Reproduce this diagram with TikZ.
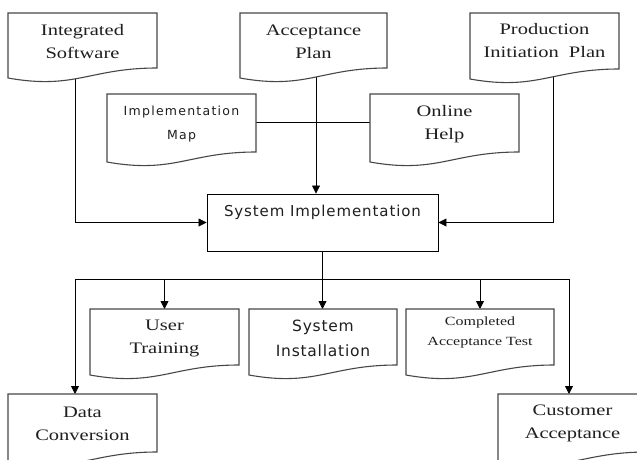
\documentclass[tikz,border=0pt]{standalone}
\usepackage{fontspec}
\usetikzlibrary{arrows.meta,calc}
\newfontfamily\docserif[FakeStretch=1.28]{Liberation Serif}
\newfontfamily\docsans{DejaVu Sans}

\pgfdeclarelayer{paper}
\pgfdeclarelayer{wires}
\pgfsetlayers{paper,wires,main}

\tikzset{
  docframe/.style={draw=black!72, line width=1.1pt, fill=white},
  docarea/.style={inner sep=0pt, outer sep=0pt},
  serifbig/.style={align=center, inner sep=0pt, text=black!88,
    font=\docserif\fontsize{16}{23}\selectfont},
  serifsmall/.style={align=center, inner sep=0pt, text=black!88,
    font=\docserif\fontsize{12.5}{20}\selectfont},
  sansmid/.style={align=center, inner sep=0pt, text=black!88,
    font=\docsans\addfontfeature{LetterSpace=5}\fontsize{15.5}{25}\selectfont},
  sanssmall/.style={align=center, inner sep=0pt, text=black!88,
    font=\docsans\addfontfeature{LetterSpace=10}\fontsize{12.5}{24}\selectfont},
  procbox/.style={draw=black, line width=0.9pt, fill=white},
  wire/.style={draw=black, line width=0.8pt},
  arr/.style={wire, -{Triangle[width=8pt,length=8pt]}},
}

% document symbol: #1 name, #2 left, #3 right, #4 top, #5 lower-left bottom,
% #6 text style, #7 text, #8 vertical text offset from top
\newcommand\docpage[8]{%
  \path[docframe] (#2,#4) -- (#3,#4) -- (#3,#5-10)
    .. controls ({#2+0.55*(#3-#2)},#5-10) and ({#2+0.45*(#3-#2)},#5+12) ..
    (#2,#5) -- cycle;
  \node[docarea, minimum width={(#3-#2)*1pt}, minimum height={(#5-#4)*1pt}]
    (#1) at ({(#2+#3)/2},{(#4+#5)/2}) {};
  \node[#6] (#1-t) at ({(#2+#3)/2},#4+#8) {#7};
}

\begin{document}
\begin{tikzpicture}[x=1pt, y=-1pt]
\useasboundingbox (0,0) rectangle (637,459);
\begin{pgfonlayer}{paper}
  \fill[white] (0,0) rectangle (637,459);
\end{pgfonlayer}
\clip (0,0) rectangle (637,459);

% inputs
\docpage{intsw}{8}{157}{13}{78}{serifbig}{Integrated\\Software}{29}
\docpage{accplan}{240}{387}{13}{78}{serifbig}{Acceptance\\Plan}{29}
\docpage{prodplan}{470}{619}{13}{79}{serifbig}{Production\\Initiation\ \ Plan}{28}
\docpage{implmap}{107}{256}{94}{162}{sanssmall}{Implementation\\Map}{30}
\docpage{onlinehelp}{370}{519}{94}{162}{serifbig}{Online\\Help}{30}

% central process
\node[procbox, minimum width=231pt, minimum height=57pt] (sysimpl) at (322.5,222.5) {};
\node[sansmid, font=\docsans\addfontfeature{LetterSpace=6}\fontsize{15}{20}\selectfont]
  (sysimpl-t) at (322.5,212) {System Implementation};

% outputs
\docpage{usertrain}{90}{239}{309}{375}{serifbig}{User\\Training}{29}
\docpage{sysinst}{249}{397}{309}{375}{sansmid}{System\\Installation}{29}
\docpage{comptest}{406}{554}{309}{375}{serifsmall}{Completed\\Acceptance Test}{23}
\docpage{dataconv}{8}{157}{394}{462}{serifbig}{Data\\Conversion}{30}
\docpage{custacc}{498}{647}{394}{462}{serifbig}{Customer\\Acceptance}{29}

\coordinate (busL) at (75,279);
\coordinate (busR) at (569,279);

\begin{pgfonlayer}{wires}
  % feeds into the process
  \draw[arr] ([xshift=-7.5pt]intsw.center) |- (sysimpl.west);
  \draw[arr] ([xshift=8.5pt]prodplan.center) |- (sysimpl.east);
  \draw[arr] ([xshift=2.5pt]accplan.center) -- ([xshift=2.5pt]accplan.center |- sysimpl.north);
  \draw[wire] ([yshift=6pt]implmap.center) -- ([yshift=6pt]onlinehelp.center);
  % distribution bus
  \draw[wire] (sysimpl.south) -- (sysimpl.south |- busL);
  \draw[wire] (busL) -- (busR);
  \draw[arr] (busL) -- (busL |- dataconv.north);
  \draw[arr] (busR) -- (busR |- custacc.north);
  \draw[arr] (usertrain.north |- busL) -- (usertrain.north);
  \draw[arr] (sysimpl.south |- busL) -- (sysimpl.south |- sysinst.north);
  \draw[arr] (comptest.north |- busL) -- (comptest.north);
\end{pgfonlayer}
\end{tikzpicture}
\end{document}
